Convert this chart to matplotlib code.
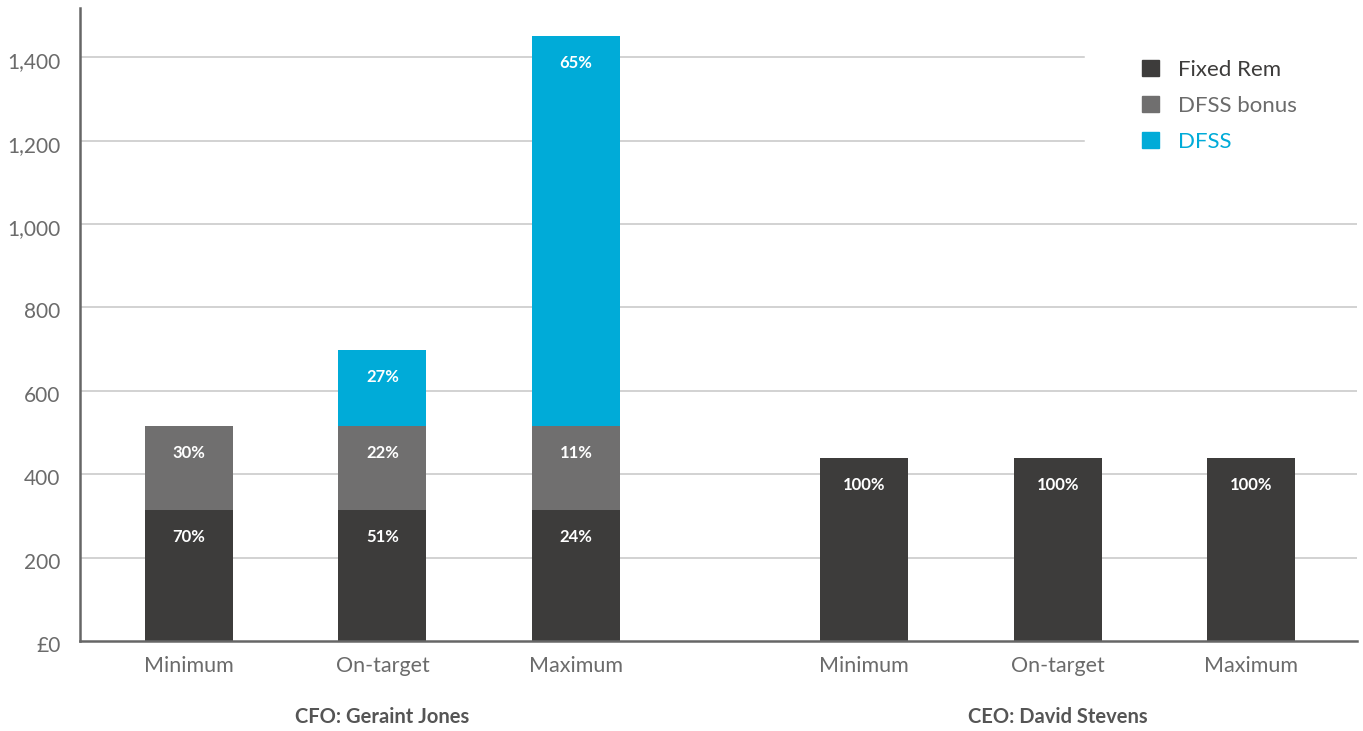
import matplotlib
matplotlib.use("Agg")
import matplotlib.pyplot as plt
from matplotlib.patches import Patch
from matplotlib import transforms

plt.rcParams['font.family'] = ['Lato', 'DejaVu Sans']

# data
categories = ['Minimum', 'On-target', 'Maximum', 'Minimum', 'On-target', 'Maximum']
groups = ['CFO: Geraint Jones', 'CEO: David Stevens']
fixed_rem = [315, 315, 315, 439, 439, 439]
dfss_bonus = [200, 200, 200, 0, 0, 0]
dfss = [0, 183, 935, 0, 0, 0]
fixed_pct = ['70%', '51%', '24%', '100%', '100%', '100%']
bonus_pct = ['30%', '22%', '11%', '', '', '']
dfss_pct = ['', '27%', '65%', '', '', '']
yticks = [0, 200, 400, 600, 800, 1000, 1200, 1400]
ytick_labels = ['£0', '200', '400', '600', '800', '1,000', '1,200', '1,400']

c_fixed = '#3d3c3b'
c_bonus = '#706f6f'
c_dfss = '#00abd8'
c_text = '#6b6b6b'

x = [0, 1, 2, 3.49, 4.49, 5.49]
w = 0.455

fig = plt.figure(figsize=(13.63, 7.31), dpi=100)
ax = fig.add_axes([80/1363, 90/731, 1277/1363, 633/731])

# gridlines (top two stop short of the legend)
for v in yticks[1:]:
    xmax = (1084 - 80) / 1277 if v >= 1200 else 1
    ax.axhline(v, xmin=0, xmax=xmax, color='#c6c6c6', lw=1.1, zorder=0)

bottom2 = [a + b for a, b in zip(fixed_rem, dfss_bonus)]
b1 = ax.bar(x, fixed_rem, w, color=c_fixed, zorder=2)
b2 = ax.bar(x, dfss_bonus, w, bottom=fixed_rem, color=c_bonus, zorder=2)
b3 = ax.bar(x, dfss, w, bottom=bottom2, color=c_dfss, zorder=2)

tops1 = fixed_rem
tops2 = bottom2
tops3 = [a + b for a, b in zip(bottom2, dfss)]
for labels, tops in [(fixed_pct, tops1), (bonus_pct, tops2), (dfss_pct, tops3)]:
    for xi, t, lab in zip(x, tops, labels):
        if lab:
            ax.annotate(lab, (xi, t), xytext=(0, -19.5), textcoords='offset points',
                        ha='center', va='center', color='white', fontsize=12,
                        fontweight='bold', zorder=3)

ax.set_xlim(-0.563, 6.036)
ax.set_ylim(0, 1518)
ax.set_yticks(yticks)
ax.set_yticklabels(ytick_labels)
ax.set_xticks(x)
ax.set_xticklabels(categories)
ax.tick_params(axis='y', length=0, pad=14, labelsize=15, labelcolor=c_text)
ax.tick_params(axis='x', length=0, pad=11, labelsize=15.5, labelcolor=c_text)
for lab in ax.get_yticklabels():
    lab.set_transform(lab.get_transform() + transforms.ScaledTranslation(0, -3/100, fig.dpi_scale_trans))

for s in ['top', 'right']:
    ax.spines[s].set_visible(False)
for s in ['left', 'bottom']:
    ax.spines[s].set_color('#666666')
    ax.spines[s].set_linewidth(1.8)

trans = transforms.blended_transform_factory(ax.transData, ax.transAxes)
ax.text(1, -0.12, groups[0], transform=trans, ha='center', va='center',
        fontsize=14.5, fontweight='bold', color='#555555')
ax.text(4.49, -0.12, groups[1], transform=trans, ha='center', va='center',
        fontsize=14.5, fontweight='bold', color='#555555')

handles = [Patch(color=c_fixed), Patch(color=c_bonus), Patch(color=c_dfss)]
leg = ax.legend(handles, ['Fixed Rem', 'DFSS bonus', 'DFSS'],
                loc='upper left', bbox_to_anchor=(1122/1363, 1 - 40/731),
                bbox_transform=fig.transFigure, frameon=False, fontsize=16,
                handlelength=0.75, handleheight=0.75, handletextpad=0.85,
                labelspacing=0.72, labelcolor=['#3d3c3b', '#6b6b6b', c_dfss])

fig.savefig('out.png', dpi=100)
